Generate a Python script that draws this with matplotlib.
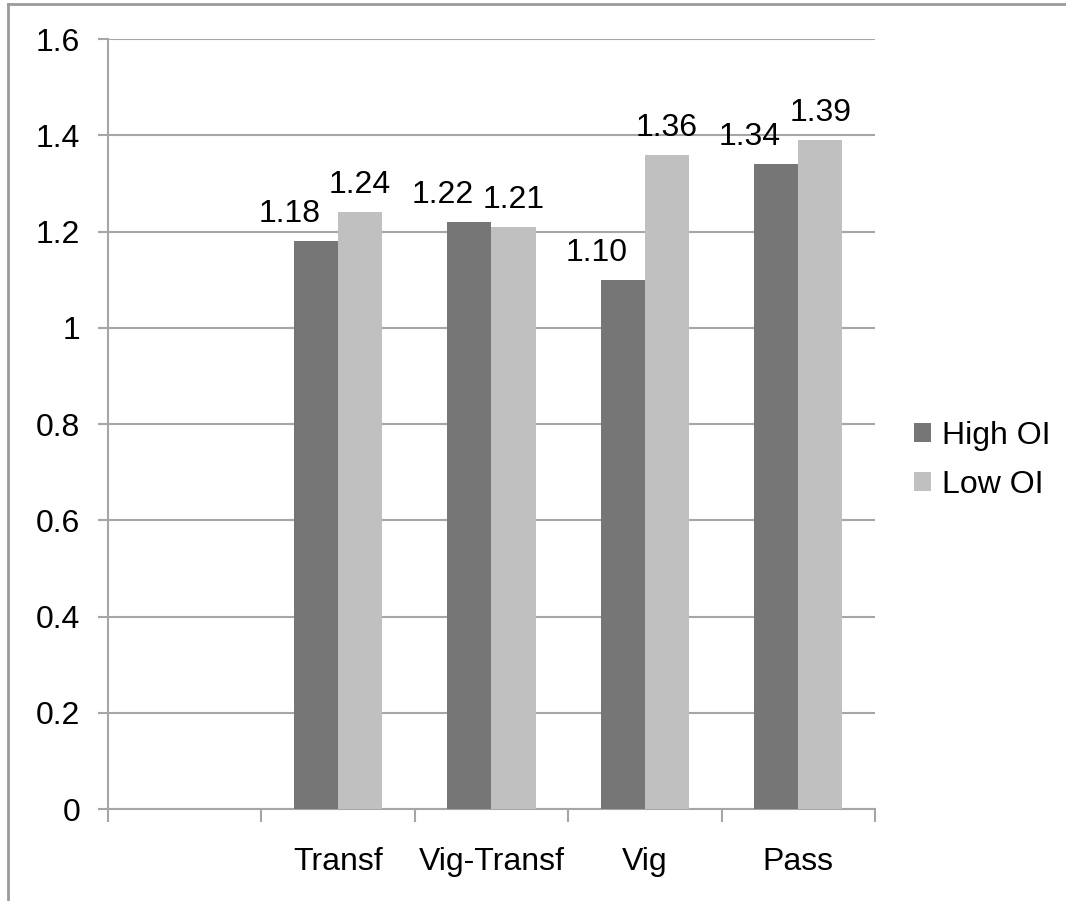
import numpy as np
import matplotlib.pyplot as plt
from matplotlib.lines import Line2D

plt.rcParams['font.family'] = ['Liberation Sans', 'DejaVu Sans']

# data
categories = ["", "Transf", "Vig-Transf", "Vig", "Pass"]
high_oi = [np.nan, 1.18, 1.22, 1.10, 1.34]
low_oi = [np.nan, 1.24, 1.21, 1.36, 1.39]
yticks = [0, 0.2, 0.4, 0.6, 0.8, 1, 1.2, 1.4, 1.6]
ytick_labels = ["0", "0.2", "0.4", "0.6", "0.8", "1", "1.2", "1.4", "1.6"]

dark = "#767676"
light = "#c0c0c0"
grid_col = "#a6a6a6"
fs = 23

fig = plt.figure(figsize=(10.66, 9.01), dpi=100)
ax = fig.add_axes([0.1013, 0.1021, 0.7195, 0.8546])

x = np.arange(len(categories))
w = 0.287
b1 = ax.bar(x - w / 2, high_oi, w, color=dark, label="High OI", zorder=3)
b2 = ax.bar(x + w / 2, low_oi, w, color=light, label="Low OI", zorder=3)

# value labels above the bars (dark-bar labels nudged left so they don't collide)
for bars, vals, dx in ((b1, high_oi, -19), (b2, low_oi, 0)):
    for rect, v in zip(bars, vals):
        if np.isnan(v):
            continue
        ax.annotate(f"{v:.2f}", (rect.get_x() + rect.get_width() / 2, v),
                    xytext=(dx, 8.5), textcoords="offset points",
                    ha="center", va="bottom", fontsize=fs)

ax.set_xlim(-0.5, len(categories) - 0.5)
ax.set_ylim(0, 1.6)
ax.set_yticks(yticks)
ax.set_yticklabels(ytick_labels, fontsize=fs)
ax.yaxis.grid(True, color=grid_col, linewidth=1.5, zorder=0)
ax.tick_params(axis="y", length=7, width=1.5, color=grid_col, pad=13)

ax.set_xticks(x)
ax.set_xticklabels(categories, fontsize=fs)
ax.tick_params(axis="x", which="major", length=0, pad=27)
ax.set_xticks(np.arange(-0.5, len(categories)), minor=True)
ax.tick_params(axis="x", which="minor", length=9, width=1.5, color=grid_col)

for side in ("top", "right"):
    ax.spines[side].set_visible(False)
for side in ("left", "bottom"):
    ax.spines[side].set_color(grid_col)
    ax.spines[side].set_linewidth(1.5)

ax.legend(loc="center left", bbox_to_anchor=(0.845, 0.489), bbox_transform=fig.transFigure,
          frameon=False, fontsize=fs, handlelength=0.55, handleheight=0.55,
          handletextpad=0.35, labelspacing=0.6, borderaxespad=0)

# outer frame lines
fig.add_artist(Line2D([0.0075, 1.0], [0.9956, 0.9956], color="#9a9a9a", linewidth=2))
fig.add_artist(Line2D([0.0075, 0.0075], [0.0, 0.9956], color="#9a9a9a", linewidth=2))

fig.savefig("out.png", dpi=100)
